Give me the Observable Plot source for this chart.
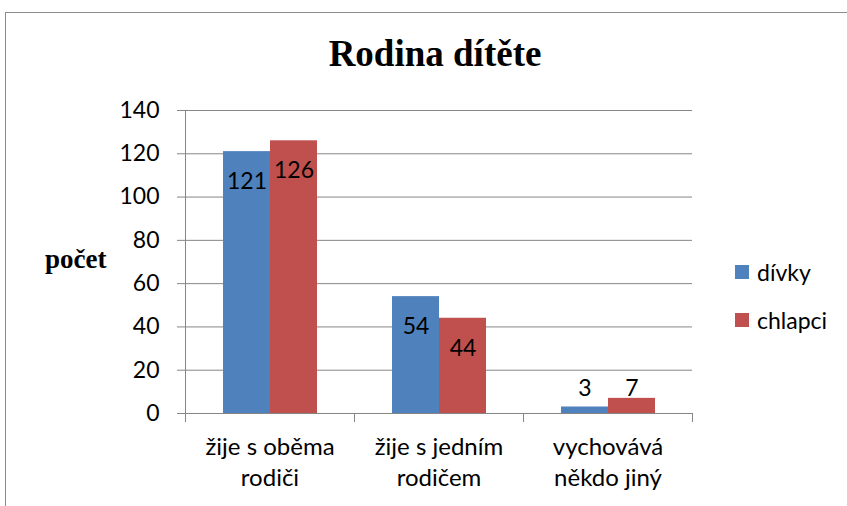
<!DOCTYPE html>
<html>
<head>
<meta charset="utf-8">
<script src="https://cdn.jsdelivr.net/npm/d3@7"></script>
<script src="https://cdn.jsdelivr.net/npm/@observablehq/plot@0.6"></script>
<style>
  html, body { margin: 0; padding: 0; background: #fff; }
  #wrap { position: relative; width: 847px; height: 506px; overflow: hidden; }
  #border { position: absolute; left: 5px; top: 12px; width: 900px; height: 600px; border: 1px solid #8c8c8c; box-sizing: border-box; }
  #title { position: absolute; left: 235px; width: 400px; top: 35px; text-align: center; font: bold 37px "Liberation Serif", serif; line-height: 37px; }
  #ylabel { position: absolute; left: 45px; top: 246px; font: bold 27px "Liberation Serif", serif; line-height: 27px; }
  #legend { position: absolute; left: 735px; top: 0; font: 23px Lato, sans-serif; }
  .item { position: absolute; left: 0; white-space: nowrap; display: flex; align-items: center; height: 26px; }
  .sw { width: 14px; height: 14px; margin-right: 8px; }
  #chart { position: absolute; left: 0; top: 0; }
</style>
</head>
<body>
<div id="wrap">
  <div id="border"></div>
  <div id="chart"></div>
  <div id="title">Rodina dítěte</div>
  <div id="ylabel">počet</div>
  <div id="legend"></div>
</div>
<script>
const categories = ["žije s oběma\nrodiči", "žije s jedním\nrodičem", "vychovává\nněkdo jiný"];
const seriesNames = ["dívky", "chlapci"];
const divky = [121, 54, 3];
const chlapci = [126, 44, 7];
const yTicks = [0, 20, 40, 60, 80, 100, 120, 140];
const colors = ["#4F81BD", "#C0504D"];

const seriesValues = [divky, chlapci];
const data = [];
categories.forEach((c, i) => seriesNames.forEach((s, j) => data.push({category: c, series: s, value: seriesValues[j][i]})));

const gray = "#868686";
const plot = Plot.plot({
  width: 847,
  height: 506,
  marginTop: 110,
  marginBottom: 93,
  marginLeft: 184,
  marginRight: 155,
  style: {fontFamily: "Lato, sans-serif", fontSize: "23px", color: "#000", background: "transparent"},
  fx: {domain: categories, padding: 0, label: null},
  x: {domain: seriesNames, paddingInner: 0, paddingOuter: 0.764, axis: null},
  y: {domain: [0, 140], ticks: yTicks, label: null},
  color: {domain: seriesNames, range: colors},
  marks: [
    Plot.gridY(yTicks, {stroke: gray, strokeOpacity: 1, strokeWidth: 1}),
    Plot.axisY(yTicks, {tickSize: 8, tickPadding: 18, stroke: gray, label: null, fontSize: 23}),
    Plot.axisFx({anchor: "bottom", tickSize: 0, tickPadding: 20, lineHeight: 1.29, label: null, fontSize: 24}),
    Plot.barY(data, {fx: "category", x: "series", y: "value", fill: "series"}),
    Plot.frame({anchor: "left", facet: "super", stroke: gray, insetBottom: -8}),
    Plot.frame({anchor: "left", stroke: gray, insetTop: 303, insetBottom: -8}),
    Plot.frame({anchor: "right", stroke: gray, insetTop: 303, insetBottom: -8}),
    Plot.text(data.filter(d => d.value >= 20), {fx: "category", x: "series", y: "value", text: "value", dy: 30, fill: "#000", fontSize: 23}),
    Plot.text(data.filter(d => d.value < 20), {fx: "category", x: "series", y: () => 0, text: "value", dy: -25, fill: "#000", fontSize: 23})
  ]
});
document.getElementById("chart").appendChild(plot);

const legend = document.getElementById("legend");
const legendY = [259, 307];
seriesNames.forEach((s, i) => {
  const it = document.createElement("div");
  it.className = "item";
  it.style.top = legendY[i] + "px";
  it.innerHTML = `<div class="sw" style="background:${colors[i]}"></div><span>${s}</span>`;
  legend.appendChild(it);
});
</script>
</body>
</html>
